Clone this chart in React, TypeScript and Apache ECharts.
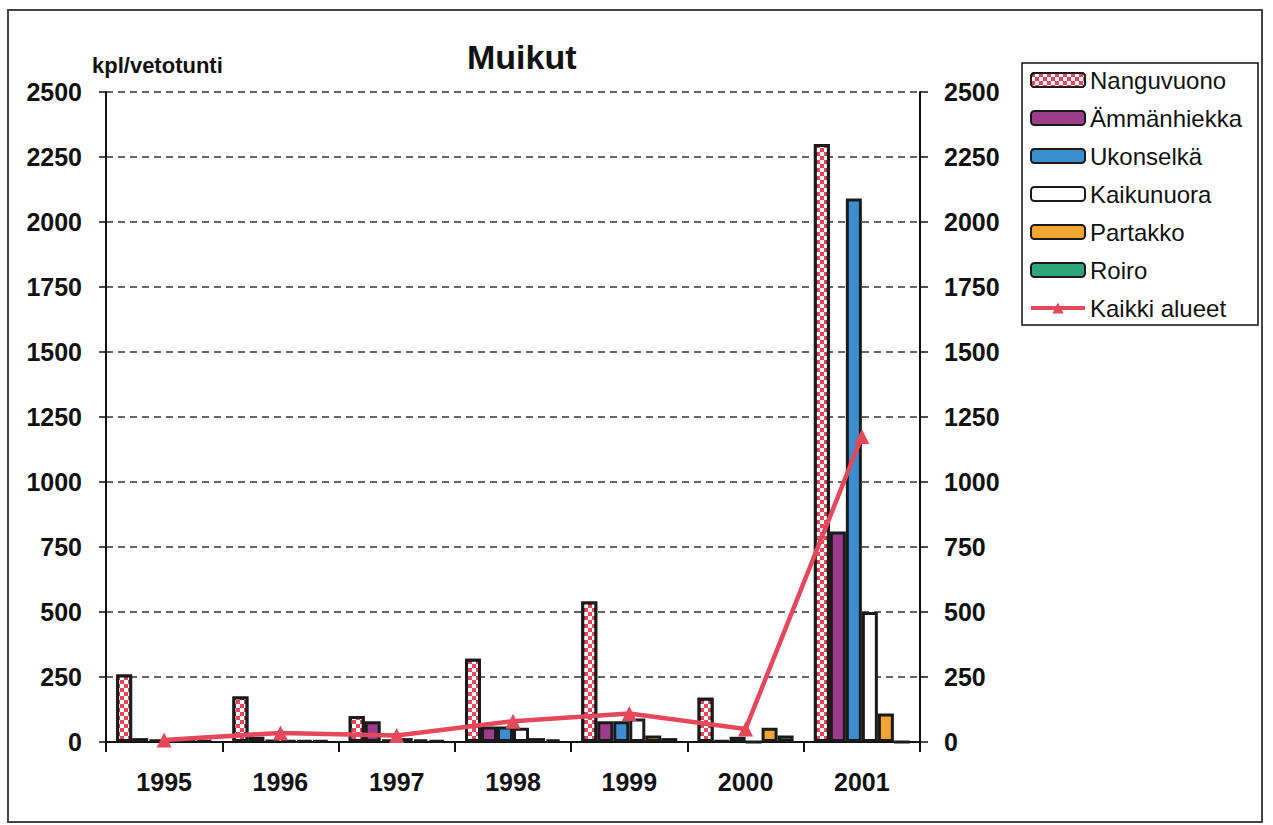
import React, { useEffect, useRef } from "react";
import * as echarts from "echarts";

const years = ["1995", "1996", "1997", "1998", "1999", "2000", "2001"];
const nanguvuono = [260, 175, 100, 320, 540, 170, 2300];
const ammanhiekka = [15, 20, 80, 60, 80, 5, 810];
const ukonselka = [10, 8, 10, 60, 80, 20, 2090];
const kaikunuora = [8, 5, 15, 55, 90, 0, 500];
const partakko = [5, 5, 10, 15, 25, 55, 110];
const roiro = [5, 5, 5, 10, 15, 25, 0];
const kaikkiAlueet = [8, 35, 25, 80, 110, 50, 1175];

const FONT = '"Liberation Sans", Arial, sans-serif';

export default function App() {
  const ref = useRef<HTMLDivElement>(null);
  useEffect(() => {
    if (!ref.current) return;
    const chart = echarts.init(ref.current, null, { renderer: "svg" });
    const barBase = (name: string, data: number[], color: string, extra: any = {}) => ({
      name,
      type: "bar",
      data,
      barWidth: 16,
      barGap: "0%",
      yAxisIndex: 0,
      itemStyle: { color, borderColor: "#1a1a1a", borderWidth: 3, ...extra },
      z: 2,
    });
    const yLabel = {
      fontSize: 25,
      fontWeight: "bold",
      color: "#111",
      margin: 24,
      fontFamily: FONT,
      formatter: (v: number) => String(v),
    };
    chart.setOption({
      animation: false,
      backgroundColor: "#ffffff",
      textStyle: { fontFamily: FONT },
      grid: { left: 106, right: 353, top: 92, bottom: 83, containLabel: false },
      legend: {
        orient: "vertical",
        left: 1029,
        top: 68,
        itemWidth: 54,
        itemHeight: 14,
        itemGap: 14,
        padding: 0,
        lineStyle: { width: 4 },
        textStyle: { fontSize: 24, color: "#111", fontFamily: FONT },
        data: ["Nanguvuono", "Ämmänhiekka", "Ukonselkä", "Kaikunuora", "Partakko", "Roiro", "Kaikki alueet"],
      },
      xAxis: {
        type: "category",
        data: years,
        boundaryGap: true,
        axisLine: { lineStyle: { color: "#111", width: 2 } },
        axisTick: { show: true, length: 10, lineStyle: { color: "#111", width: 2 } },
        axisLabel: { fontSize: 25, fontWeight: "bold", color: "#111", margin: 27, fontFamily: FONT },
      },
      yAxis: [
        {
          type: "value",
          min: 0,
          max: 2500,
          interval: 250,
          axisLine: { show: true, lineStyle: { color: "#111", width: 2 } },
          axisTick: { show: true, length: 7, lineStyle: { color: "#111", width: 1.5 } },
          axisLabel: yLabel,
          splitLine: { show: true, lineStyle: { color: "#333", width: 1.5, type: [7, 5] } },
        },
        {
          type: "value",
          min: 0,
          max: 2500,
          interval: 250,
          position: "right",
          axisLine: { show: true, lineStyle: { color: "#111", width: 2 } },
          axisTick: { show: true, length: 8, lineStyle: { color: "#111", width: 1.5 } },
          axisLabel: yLabel,
          splitLine: { show: false },
        },
      ],
      series: [
        barBase("Nanguvuono", nanguvuono, "#e5475b", {
          decal: {
            symbol: "rect",
            symbolSize: 1,
            color: "#ffffff",
            dashArrayX: [[4, 4], [0, 4, 4, 0]],
            dashArrayY: [4, 0],
          },
        }),
        barBase("Ämmänhiekka", ammanhiekka, "#9c3d8c"),
        barBase("Ukonselkä", ukonselka, "#3b8fd0"),
        barBase("Kaikunuora", kaikunuora, "#ffffff"),
        barBase("Partakko", partakko, "#f2a531"),
        barBase("Roiro", roiro, "#2fa57c"),
        {
          name: "Kaikki alueet",
          type: "line",
          yAxisIndex: 1,
          data: kaikkiAlueet,
          symbol: "triangle",
          symbolSize: 15,
          lineStyle: { color: "#e5475b", width: 4.5 },
          itemStyle: { color: "#e5475b" },
          z: 5,
        },
      ],
      graphic: [
        {
          type: "rect",
          shape: { x: 8, y: 10, width: 1254, height: 812 },
          style: { fill: "none", stroke: "#444", lineWidth: 2 },
          silent: true,
        },
        {
          type: "rect",
          shape: { x: 1022, y: 63, width: 236, height: 262 },
          style: { fill: "none", stroke: "#111", lineWidth: 1.5 },
          silent: true,
        },
        {
          type: "text",
          left: 467,
          top: 40,
          style: { text: "Muikut", font: 'bold 34px "Liberation Sans", Arial, sans-serif', fill: "#111" },
        },
        {
          type: "text",
          left: 92,
          top: 54,
          style: { text: "kpl/vetotunti", font: 'bold 22px "Liberation Sans", Arial, sans-serif', fill: "#111" },
        },
      ],
    });
    return () => chart.dispose();
  }, []);
  return (
    <div
      ref={ref}
      style={{ position: "fixed", left: 0, top: 0, width: 1273, height: 825, background: "#fff" }}
    />
  );
}
